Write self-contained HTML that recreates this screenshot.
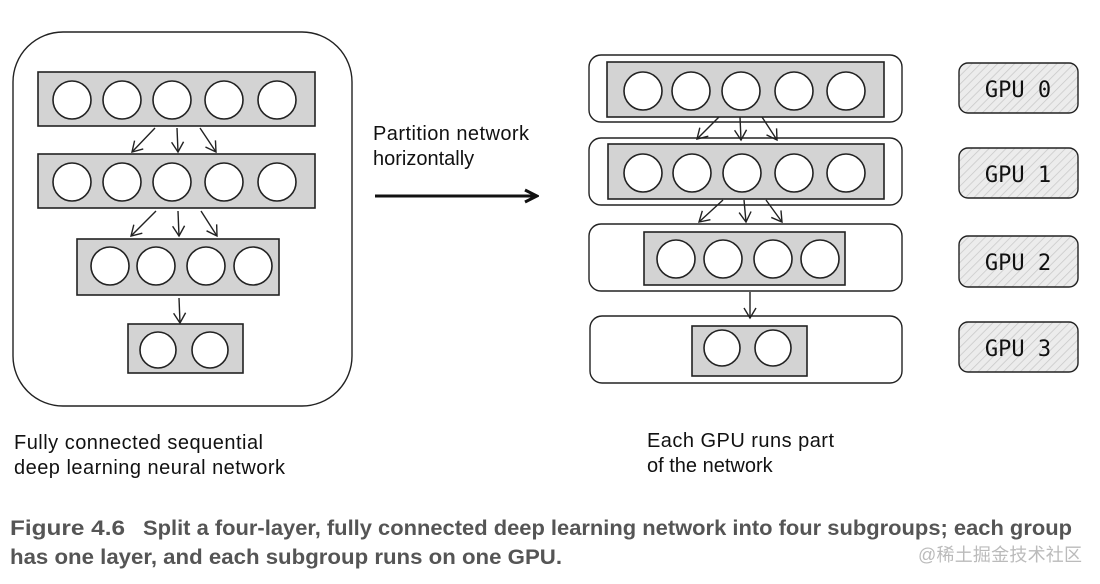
<!DOCTYPE html>
<html><head><meta charset="utf-8"><style>html,body{margin:0;padding:0;background:#fff}svg{display:block}</style></head><body>
<svg width="1100" height="584" viewBox="0 0 1100 584" xmlns="http://www.w3.org/2000/svg" font-family="Liberation Sans, sans-serif">
<defs>
<pattern id="h" width="6" height="6" patternUnits="userSpaceOnUse" patternTransform="rotate(45)"><rect width="6" height="6" fill="#ececec"/><line x1="0" y1="0" x2="0" y2="6" stroke="#c8c8c8" stroke-width="1.5"/></pattern>
<marker id="a" markerWidth="14" markerHeight="14" refX="11" refY="7" orient="auto" markerUnits="userSpaceOnUse"><path d="M1,1 L11,7 L1,13" fill="none" stroke="#222" stroke-width="1.4"/></marker>
<marker id="b" markerWidth="16" markerHeight="16" refX="14" refY="8" orient="auto" markerUnits="userSpaceOnUse"><path d="M2,2 L14,8 L2,14" fill="none" stroke="#111" stroke-width="3"/></marker>
</defs>
<g stroke="#222" stroke-width="1.6" fill="none">
<rect x="13" y="32" width="339" height="374" rx="50" stroke-width="1.4"/>
<rect x="38" y="72" width="277" height="54" fill="#d3d3d3"/>
<rect x="38" y="154" width="277" height="54" fill="#d3d3d3"/>
<rect x="77" y="239" width="202" height="56" fill="#d3d3d3"/>
<rect x="128" y="324" width="115" height="49" fill="#d3d3d3"/>
<g fill="#fff">
<circle cx="72" cy="100" r="19"/><circle cx="122" cy="100" r="19"/><circle cx="172" cy="100" r="19"/><circle cx="224" cy="100" r="19"/><circle cx="277" cy="100" r="19"/>
<circle cx="72" cy="182" r="19"/><circle cx="122" cy="182" r="19"/><circle cx="172" cy="182" r="19"/><circle cx="224" cy="182" r="19"/><circle cx="277" cy="182" r="19"/>
<circle cx="110" cy="266" r="19"/><circle cx="156" cy="266" r="19"/><circle cx="206" cy="266" r="19"/><circle cx="253" cy="266" r="19"/>
<circle cx="158" cy="350" r="18"/><circle cx="210" cy="350" r="18"/>
</g>
<g stroke-width="1.4" marker-end="url(#a)">
<line x1="155" y1="128" x2="132" y2="152"/><line x1="177" y1="128" x2="178" y2="152"/><line x1="200" y1="128" x2="216" y2="152"/>
<line x1="156" y1="211" x2="131" y2="236"/><line x1="178" y1="211" x2="179" y2="236"/><line x1="201" y1="211" x2="217" y2="236"/>
<line x1="179" y1="298" x2="180" y2="323"/>
</g>
<rect x="589" y="55" width="313" height="67" rx="12" stroke-width="1.4"/>
<rect x="589" y="138" width="313" height="67" rx="12" stroke-width="1.4"/>
<rect x="589" y="224" width="313" height="67" rx="12" stroke-width="1.4"/>
<rect x="590" y="316" width="312" height="67" rx="12" stroke-width="1.4"/>
<rect x="607" y="62" width="277" height="55" fill="#d3d3d3"/>
<rect x="608" y="144" width="276" height="55" fill="#d3d3d3"/>
<rect x="644" y="232" width="201" height="53" fill="#d3d3d3"/>
<rect x="692" y="326" width="115" height="50" fill="#d3d3d3"/>
<g fill="#fff">
<circle cx="643" cy="91" r="19"/><circle cx="691" cy="91" r="19"/><circle cx="741" cy="91" r="19"/><circle cx="794" cy="91" r="19"/><circle cx="846" cy="91" r="19"/>
<circle cx="643" cy="173" r="19"/><circle cx="692" cy="173" r="19"/><circle cx="742" cy="173" r="19"/><circle cx="794" cy="173" r="19"/><circle cx="846" cy="173" r="19"/>
<circle cx="676" cy="259" r="19"/><circle cx="723" cy="259" r="19"/><circle cx="773" cy="259" r="19"/><circle cx="820" cy="259" r="19"/>
<circle cx="722" cy="348" r="18"/><circle cx="773" cy="348" r="18"/>
</g>
<g stroke-width="1.4" marker-end="url(#a)">
<line x1="719" y1="117" x2="697" y2="139"/><line x1="740" y1="117" x2="741" y2="140"/><line x1="762" y1="117" x2="777" y2="140"/>
<line x1="723" y1="200" x2="699" y2="222"/><line x1="744" y1="200" x2="746" y2="222"/><line x1="766" y1="200" x2="782" y2="222"/>
<line x1="750" y1="292" x2="750" y2="318"/>
</g>
<g fill="url(#h)" stroke-width="1.4">
<rect x="959" y="63" width="119" height="50" rx="9"/>
<rect x="959" y="148" width="119" height="50" rx="9"/>
<rect x="959" y="236" width="119" height="51" rx="9"/>
<rect x="959" y="322" width="119" height="50" rx="9"/>
</g>
<line x1="375" y1="196" x2="537" y2="196" stroke="#111" stroke-width="3" marker-end="url(#b)"/>
</g>
<g font-size="22" fill="#111" font-family="DejaVu Sans Mono, Liberation Mono, monospace">
<text x="1018" y="97" text-anchor="middle">GPU 0</text>
<text x="1018" y="182" text-anchor="middle">GPU 1</text>
<text x="1018" y="270" text-anchor="middle">GPU 2</text>
<text x="1018" y="356" text-anchor="middle">GPU 3</text>
</g>
<g font-size="20" fill="#111">
<text x="373" y="140" textLength="156">Partition network</text>
<text x="373" y="165">horizontally</text>
<text x="14" y="449" textLength="249">Fully connected sequential</text>
<text x="14" y="474" textLength="271">deep learning neural network</text>
<text x="647" y="447" textLength="187">Each GPU runs part</text>
<text x="647" y="472">of the network</text>
</g>
<g font-size="21" font-weight="bold" fill="#555">
<text x="10" y="535" textLength="115" lengthAdjust="spacingAndGlyphs">Figure 4.6</text>
<text x="143" y="535" textLength="929" lengthAdjust="spacingAndGlyphs">Split a four-layer, fully connected deep learning network into four subgroups; each group</text>
<text x="10" y="564" textLength="552" lengthAdjust="spacingAndGlyphs">has one layer, and each subgroup runs on one GPU.</text>
</g>
<text x="918" y="561" font-size="18" fill="#bbb" textLength="164" font-family="Liberation Sans, Noto Sans CJK SC, sans-serif">@稀土掘金技术社区</text>
</svg>
</body></html>
